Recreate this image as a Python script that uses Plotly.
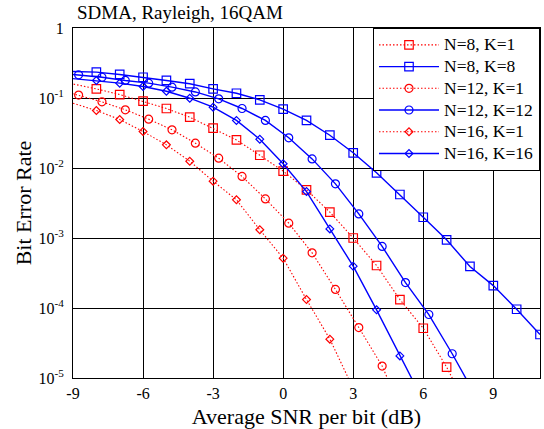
import plotly.graph_objects as go

# ---- data ----
# N=8, K=8 (blue squares)
x_n8k8 = [-10, -8, -7, -6, -5, -4, -3, -2, -1, 0, 1, 2, 3, 4, 5, 6, 7, 8, 9, 10, 11]
ber_n8k8 = [0.245, 0.234, 0.217, 0.198, 0.178, 0.160, 0.135, 0.117, 0.0942, 0.0692,
            0.0478, 0.0294, 0.0165, 0.00853, 0.00418, 0.00198, 0.000942, 0.000392,
            0.000209, 9.6e-5, 4.18e-5]

# N=8, K=1 (red squares)
x_n8k1 = [-10, -8, -7, -6, -5, -4, -3, -2, -1, 0, 1, 2, 3, 4, 5, 6, 7, 8]
ber_n8k1 = [0.186, 0.135, 0.112, 0.0902, 0.0708, 0.0532, 0.0371, 0.0252, 0.0152,
            0.00902, 0.00488, 0.00234, 0.00100, 0.000405, 0.000132, 5.14e-5,
            1.43e-5, 3.2e-6]

# N=12, K=12 (blue circles)
x_n12k12 = [-9.76, -8.76, -7.76, -6.76, -5.76, -4.76, -3.76, -2.76, -1.76, -0.76,
            0.24, 1.24, 2.24, 3.24, 4.24, 5.24, 6.24, 7.24, 8.24]
ber_n12k12 = [0.229, 0.214, 0.198, 0.178, 0.163, 0.143, 0.122, 0.0973, 0.0708,
              0.0478, 0.0270, 0.0135, 0.00594, 0.00221, 0.000757, 0.000231,
              8.07e-5, 2.22e-5, 5.6e-6]

# N=12, K=1 (red circles)
x_n12k1 = [-9.76, -8.76, -7.76, -6.76, -5.76, -4.76, -3.76, -2.76, -1.76, -0.76,
           0.24, 1.24, 2.24, 3.24, 4.24, 5.24]
ber_n12k1 = [0.135, 0.110, 0.0881, 0.0678, 0.0499, 0.0351, 0.0226, 0.0138,
             0.00757, 0.00362, 0.00163, 0.000614, 0.000184, 5.26e-5, 1.48e-5, 2.5e-6]

# N=16, K=16 (blue diamonds)
x_n16k16 = [-10, -8, -7, -6, -5, -4, -3, -2, -1, 0, 1, 2, 3, 4, 5, 6]
ber_n16k16 = [0.204, 0.178, 0.163, 0.146, 0.125, 0.0993, 0.0740, 0.0478, 0.0258,
              0.0115, 0.00461, 0.00135, 0.000396, 9.42e-5, 2.07e-5, 4.7e-6]

# N=16, K=1 (red diamonds)
x_n16k1 = [-10, -8, -7, -6, -5, -4, -3, -2, -1, 0, 1, 2, 3]
ber_n16k1 = [0.107, 0.0662, 0.0493, 0.0332, 0.0214, 0.0125, 0.00649, 0.00351,
             0.00131, 0.000515, 0.000132, 3.59e-5, 7.1e-6]

series_names = ["N=8, K=1", "N=8, K=8", "N=12, K=1", "N=12, K=12", "N=16, K=1", "N=16, K=16"]

x_tickvals = [-9, -6, -3, 0, 3, 6, 9]
x_ticktext = ["-9", "-6", "-3", "0", "3", "6", "9"]
y_tickvals = [1e-5, 1e-4, 1e-3, 1e-2, 1e-1, 1]
y_ticktext = ["10<sup>-5</sup>", "10<sup>-4</sup>", "10<sup>-3</sup>",
              "10<sup>-2</sup>", "10<sup>-1</sup>", "1"]

RED = "#ff0000"
BLUE = "#0000ff"
FONT = "Liberation Serif, Times New Roman, serif"
DOTTED = "1.5px,2px"

series = [
    (series_names[0], x_n8k1, ber_n8k1, RED, DOTTED, "square-open", 8.5),
    (series_names[1], x_n8k8, ber_n8k8, BLUE, "solid", "square-open", 8.5),
    (series_names[2], x_n12k1, ber_n12k1, RED, DOTTED, "circle-open", 8),
    (series_names[3], x_n12k12, ber_n12k12, BLUE, "solid", "circle-open", 8),
    (series_names[4], x_n16k1, ber_n16k1, RED, DOTTED, "diamond-open", 6),
    (series_names[5], x_n16k16, ber_n16k16, BLUE, "solid", "diamond-open", 6),
]

fig = go.Figure()
for name, xs, ys, col, dash, sym, sz in series:
    fig.add_trace(go.Scatter(
        x=xs, y=ys, mode="lines+markers",
        name="<span style='font-size:17.5px'>%s</span>" % name,
        line=dict(color=col, width=1.1 if dash == DOTTED else 1.4, dash=dash),
        marker=dict(symbol=sym, size=sz, color=col, line=dict(color=col, width=1.2)),
    ))

fig.update_layout(
    width=544, height=429,
    margin=dict(l=73, r=4, t=28, b=51),
    paper_bgcolor="white", plot_bgcolor="white",
    font=dict(family=FONT, size=16, color="black"),
    showlegend=True,
    legend=dict(
        x=1, y=1, xanchor="right", yanchor="top",
        bgcolor="white", bordercolor="black", borderwidth=1,
        font=dict(family=FONT, size=14.4, color="black"),
        itemwidth=60, tracegroupgap=0,
    ),
    annotations=[dict(
        text="SDMA, Rayleigh, 16QAM", xref="paper", yref="paper",
        x=0.004, y=1.045, xanchor="left", yanchor="middle", showarrow=False,
        font=dict(family=FONT, size=19, color="black"),
    )],
)

fig.update_xaxes(
    range=[-9, 11], tickmode="array", tickvals=x_tickvals, ticktext=x_ticktext,
    showgrid=True, gridcolor="black", gridwidth=1, zeroline=False,
    showline=True, linecolor="black", linewidth=1, mirror=True,
    ticks="outside", ticklen=1, tickcolor="rgba(0,0,0,0)", automargin=False,
    tickfont=dict(family=FONT, size=16),
    title=dict(text="Average SNR per bit (dB)", font=dict(family=FONT, size=22), standoff=9),
)
fig.update_yaxes(
    type="log", range=[-5, 0], tickmode="array", tickvals=y_tickvals, ticktext=y_ticktext,
    showgrid=True, gridcolor="black", gridwidth=1, zeroline=False,
    showline=True, linecolor="black", linewidth=1, mirror=True,
    ticks="outside", ticklen=5, tickcolor="rgba(0,0,0,0)", automargin=False,
    tickfont=dict(family=FONT, size=16),
    title=dict(text="Bit Error Rate", font=dict(family=FONT, size=22), standoff=0),
)

fig.write_html("out.html", config={"displayModeBar": False},
               post_script="document.body.style.margin='0';")
